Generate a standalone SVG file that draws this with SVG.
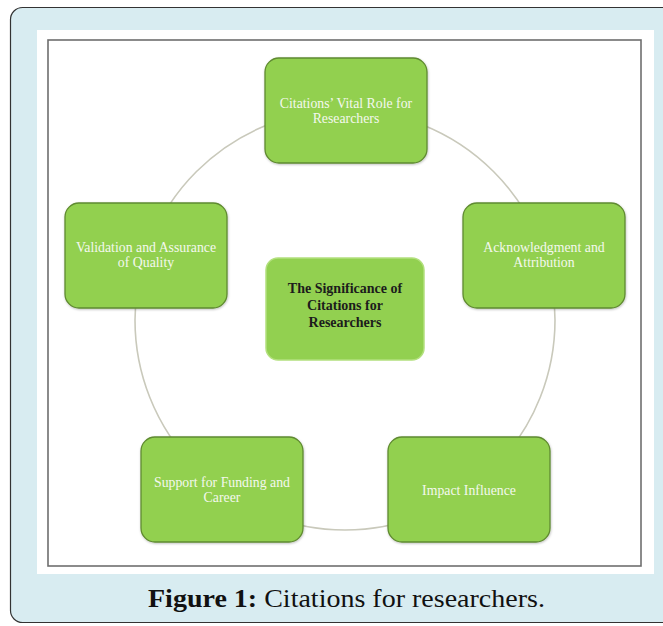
<svg xmlns="http://www.w3.org/2000/svg" width="663" height="626" viewBox="0 0 663 626">
<style>
.node rect{fill:#92d050;stroke:#5f8a30;stroke-width:1.3}
.node text{font-family:"Liberation Serif",serif;font-size:13.8px;fill:#f4f8ee;text-anchor:middle}
#center rect{fill:#92d050;stroke:#b3e07e;stroke-width:1.5}
#center text{fill:#1c1c1c;font-weight:bold;font-size:14px}
.conn{fill:none;stroke:#c9c9bb;stroke-width:1.6}
</style>
<defs>
<filter id="sh" x="-10%" y="-10%" width="130%" height="130%">
<feDropShadow dx="0.5" dy="1" stdDeviation="1" flood-color="#000" flood-opacity="0.25"/>
</filter>
</defs>
<rect x="0" y="0" width="663" height="626" fill="#ffffff"/>
<rect x="10.5" y="7.5" width="680" height="615" rx="12" fill="#d8ecf1" stroke="#333" stroke-width="1.2"/>
<rect x="37" y="30" width="617" height="544" fill="#ffffff"/>
<rect x="48" y="40" width="593" height="526" fill="none" stroke="#6e6e6e" stroke-width="1.6"/>
<g id="connectors">
<circle class="conn" cx="345" cy="320" r="210"/>
</g>
<g id="n1" class="node"><rect x="265" y="58" width="162" height="105" rx="14" filter="url(#sh)"/><text x="346" y="108">Citations’ Vital Role for</text><text x="346" y="123">Researchers</text></g>
<g id="n2" class="node"><rect x="463" y="203" width="162" height="105" rx="14" filter="url(#sh)"/><text x="544" y="252">Acknowledgment and</text><text x="544" y="267">Attribution</text></g>
<g id="n3" class="node"><rect x="388" y="437" width="162" height="105" rx="14" filter="url(#sh)"/><text x="469" y="495">Impact Influence</text></g>
<g id="n4" class="node"><rect x="141" y="437" width="162" height="105" rx="14" filter="url(#sh)"/><text x="222" y="487">Support for Funding and</text><text x="222" y="502">Career</text></g>
<g id="n5" class="node"><rect x="65" y="203" width="162" height="105" rx="14" filter="url(#sh)"/><text x="146" y="252">Validation and Assurance</text><text x="146" y="267">of Quality</text></g>
<g id="center" class="node"><rect x="266" y="258" width="158" height="102" rx="12"/><text x="345" y="293">The Significance of</text><text x="345" y="310">Citations for</text><text x="345" y="327">Researchers</text></g>
<text x="148" y="607" font-family="Liberation Serif,serif" font-size="25" fill="#111" textLength="397" lengthAdjust="spacingAndGlyphs"><tspan font-weight="bold">Figure 1:</tspan> Citations for researchers.</text>
</svg>
